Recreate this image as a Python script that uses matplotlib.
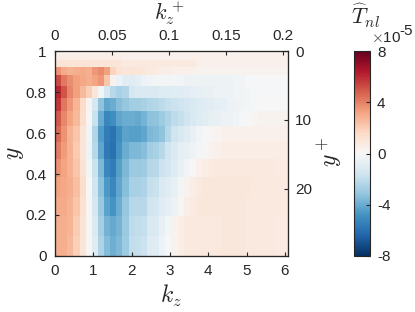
import numpy as np
import matplotlib
matplotlib.use('Agg')
import matplotlib.pyplot as plt

plt.rcParams['font.family'] = ['Liberation Sans', 'DejaVu Sans']
plt.rcParams['mathtext.fontset'] = 'cm'

# grid: spanwise wavenumber cells and Chebyshev wall-normal cells
dk = 0.16
n_kz = 38
kz_edges = np.arange(n_kz + 1) * dk
y_edges = [0.0, 0.098, 0.195, 0.290, 0.383, 0.471, 0.556, 0.634, 0.707,
           0.773, 0.831, 0.882, 0.924, 0.957, 0.981, 0.995, 1.0]
re_tau = 29.8

# T_nl values (x 1e-5), one row per y cell, bottom (y=0) to top (y=1)
r0 = [2.9, 2.9, 2.6, 1.9, 1.0, 0.1, -1.0, -2.5, -3.5, -3.9, -3.6, -2.9, -2.0, -1.9, -1.7, -1.1, -1.0, -0.5, -0.1, 0.3,
      0.6, 0.8, 0.8, 0.8, 0.8, 0.8, 0.8, 0.9, 0.9, 0.9, 0.9, 0.8, 0.8, 0.8, 0.8, 0.8, 0.7, 0.7]
r1 = [2.9, 2.9, 2.7, 2.0, 1.1, 0.1, -1.2, -2.7, -3.8, -4.1, -3.8, -3.0, -2.1, -2.0, -1.9, -1.3, -1.2, -0.6, -0.2, 0.3,
      0.6, 0.8, 0.8, 0.8, 0.8, 0.8, 0.8, 0.9, 0.9, 0.9, 0.9, 0.8, 0.8, 0.8, 0.8, 0.8, 0.7, 0.7]
r2 = [3.0, 3.0, 2.8, 2.2, 1.3, 0.1, -1.4, -3.0, -4.3, -4.8, -4.0, -3.1, -2.3, -2.2, -2.2, -1.6, -1.5, -1.0, -0.8, -0.4,
      0.1, 0.5, 0.7, 0.9, 0.9, 0.9, 0.9, 0.9, 0.9, 0.9, 0.9, 0.8, 0.8, 0.8, 0.8, 0.8, 0.8, 0.7]
r3 = [3.2, 3.1, 2.9, 2.4, 1.4, 0.0, -1.6, -3.3, -4.6, -5.2, -4.2, -3.4, -2.6, -2.6, -2.5, -1.9, -1.8, -1.2, -1.0, -0.6,
      -0.2, 0.3, 0.6, 0.8, 0.9, 0.9, 0.9, 0.9, 0.9, 0.9, 0.9, 0.9, 0.8, 0.8, 0.8, 0.8, 0.8, 0.7]
r4 = [3.6, 3.2, 2.8, 2.2, 1.2, -0.2, -1.8, -3.6, -5.2, -5.6, -4.4, -3.6, -3.0, -3.0, -2.9, -2.3, -2.2, -1.7, -1.5, -1.1,
      -0.6, -0.3, 0.0, 0.4, 0.6, 0.7, 0.8, 0.8, 0.8, 0.8, 0.8, 0.8, 0.8, 0.8, 0.8, 0.8, 0.7, 0.7]
r5 = [4.1, 3.4, 2.8, 2.1, 1.0, -0.4, -2.2, -4.2, -5.7, -6.0, -4.8, -4.0, -3.6, -3.6, -3.4, -2.8, -2.6, -2.2, -1.6, -1.2,
      -0.8, -0.6, -0.4, -0.2, 0.1, 0.3, 0.4, 0.6, 0.6, 0.6, 0.6, 0.6, 0.6, 0.6, 0.6, 0.6, 0.6, 0.6]
r6 = [4.5, 3.6, 2.8, 2.2, 1.1, -0.3, -2.4, -4.5, -5.6, -5.9, -5.0, -4.3, -4.4, -4.4, -4.2, -3.6, -3.5, -3.2, -2.3, -1.6,
      -1.3, -1.0, -0.6, -0.3, -0.1, 0.1, 0.2, 0.4, 0.4, 0.4, 0.4, 0.4, 0.4, 0.4, 0.4, 0.4, 0.4, 0.4]
r7 = [4.9, 3.9, 3.2, 2.6, 1.4, 0.1, -1.8, -4.0, -5.2, -5.0, -4.2, -4.0, -4.0, -4.1, -3.8, -3.3, -3.2, -2.9, -2.5, -2.1,
      -1.9, -1.6, -1.3, -1.1, -0.9, -0.7, -0.6, -0.5, -0.4, -0.3, -0.1, 0.0, 0.1, 0.3, 0.3, 0.3, 0.3, 0.3]
r8 = [5.7, 4.3, 3.5, 2.7, 1.5, 0.2, -1.4, -3.2, -4.2, -4.0, -3.4, -3.1, -2.8, -2.7, -2.6, -2.4, -2.3, -2.1, -1.9, -1.7,
      -1.6, -1.5, -1.3, -1.1, -1.0, -0.9, -0.8, -0.7, -0.5, -0.4, -0.3, -0.2, -0.1, 0.0, 0.0, 0.0, 0.0, 0.0]
r9 = [6.1, 5.0, 3.9, 3.3, 2.6, 1.9, 1.0, -0.2, -1.4, -2.2, -2.6, -2.4, -1.4, -1.2, -1.2, -1.2, -1.2, -1.1, -1.1, -1.0,
      -1.0, -0.9, -0.8, -0.7, -0.6, -0.6, -0.5, -0.5, -0.4, -0.3, -0.3, -0.2, -0.1, -0.1, -0.1, -0.1, -0.1, -0.1]
r10 = [5.2, 4.2, 3.7, 3.3, 3.1, 2.9, 3.2, 3.5, 2.2, 0.3, -0.5, -0.9, -1.0, -0.8, -0.5, -0.3, -0.2, -0.2, -0.2, -0.2,
       -0.3, -0.4, -0.4, -0.4, -0.4, -0.4, -0.4, -0.4, -0.4, -0.3, -0.3, -0.1, -0.1, -0.1, -0.1, -0.1, -0.1, -0.1]
r11 = [3.6, 3.0, 2.8, 2.9, 3.0, 2.9, 3.5, 3.8, 3.3, 1.8, 1.2, 1.0, 1.0, 1.0, 0.9, 0.8, 0.7, 0.6, 0.5, 0.4,
       0.4, 0.4, 0.4, 0.3, 0.3, 0.3, 0.3, 0.3, 0.3, 0.3, 0.3, 0.3, 0.3, 0.3, 0.3, 0.3, 0.3, 0.3]
r12 = [1.1, 1.1, 1.1, 1.1, 1.1, 1.1, 1.0, 1.0, 1.0, 1.0, 1.0, 0.8, 0.8, 0.8, 0.8, 0.8, 0.8, 0.8, 0.8, 0.8,
       0.8, 0.8, 0.8, 0.4, 0.4, 0.4, 0.4, 0.4, 0.4, 0.4, 0.4, 0.4, 0.4, 0.4, 0.4, 0.4, 0.4, 0.4]
r13 = [0.6, 0.6, 0.6, 0.6, 0.6, 0.6, 0.6, 0.6, 0.6, 0.6, 0.6, 0.4, 0.4, 0.4, 0.4, 0.4, 0.4, 0.4, 0.4, 0.4,
       0.4, 0.4, 0.4, 0.4, 0.4, 0.4, 0.4, 0.4, 0.4, 0.4, 0.4, 0.4, 0.4, 0.4, 0.4, 0.4, 0.4, 0.4]
r14 = [0.4, 0.4, 0.4, 0.4, 0.4, 0.4, 0.4, 0.4, 0.4, 0.4, 0.4, 0.3, 0.3, 0.3, 0.3, 0.3, 0.3, 0.3, 0.3, 0.3,
       0.3, 0.3, 0.3, 0.3, 0.3, 0.3, 0.3, 0.3, 0.3, 0.3, 0.3, 0.3, 0.3, 0.3, 0.3, 0.3, 0.3, 0.3]
r15 = [0.2] * n_kz

T_nl = np.array([r0, r1, r2, r3, r4, r5, r6, r7, r8, r9, r10, r11, r12, r13, r14, r15])

y_ticks = [0, 0.2, 0.4, 0.6, 0.8, 1]
kz_ticks = [0, 1, 2, 3, 4, 5, 6]
kzp_ticks = [0, 0.05, 0.1, 0.15, 0.2]
yp_ticks = [0, 10, 20]
cb_ticks = [-8, -4, 0, 4, 8]

ink = '#262626'
fig = plt.figure(figsize=(4.15, 3.12), dpi=100)
ax = fig.add_axes([0.1325, 0.1795, 0.5615, 0.657])
mesh = ax.pcolormesh(kz_edges, y_edges, T_nl, cmap='RdBu_r', vmin=-8, vmax=8, shading='flat')
ax.set_xlim(0, kz_edges[-1])
ax.set_ylim(0, 1)
ax.set_xticks(kz_ticks)
ax.set_xticklabels([str(t) for t in kz_ticks])
ax.set_yticks(y_ticks)
ax.set_yticklabels(['0', '0.2', '0.4', '0.6', '0.8', '1'])
ax.tick_params(direction='in', length=3, labelsize=11, colors=ink, pad=6, top=False, right=False)
ax.set_xlabel('$k_z$', fontsize=17, color=ink, va='center')
ax.xaxis.set_label_coords(0.498, -0.195)
ax.set_ylabel('$y$', fontsize=17, color=ink, va='center', ha='center')
ax.yaxis.set_label_coords(-0.172, 0.5)
for s in ax.spines.values():
    s.set_color(ink)

# top axis: k_z^+
axt = ax.twiny()
axt.set_xlim(0, kz_edges[-1] / re_tau)
axt.set_xticks(kzp_ticks)
axt.set_xticklabels(['0', '0.05', '0.1', '0.15', '0.2'])
axt.tick_params(direction='in', length=3, labelsize=11, colors=ink, pad=6)
axt.set_xlabel('$k_z^+$', fontsize=16, color=ink, va='center')
axt.xaxis.set_label_coords(0.49, 1.184)

# right axis: y^+
axr = ax.twinx()
axr.set_ylim(re_tau, 0)
axr.set_yticks(yp_ticks)
axr.set_yticklabels([str(t) for t in yp_ticks])
axr.tick_params(direction='in', length=3, labelsize=11, colors=ink, pad=5)
axr.set_ylabel('$y^+$', fontsize=17, color=ink, va='center', ha='center')
axr.yaxis.set_label_coords(1.18, 0.507)
for a in (axt, axr):
    for s in a.spines.values():
        s.set_color(ink)

# colorbar
cax = fig.add_axes([0.853, 0.1795, 0.0386, 0.657])
cb = fig.colorbar(mesh, cax=cax, ticks=cb_ticks)
cb.ax.set_yticklabels([str(t) for t in cb_ticks])
cb.ax.tick_params(direction='in', length=3, labelsize=11, colors=ink, pad=5)
cb.outline.set_edgecolor(ink)
fig.text(0.893, 0.878, r'$\times$10', fontsize=11, color=ink, va='center')
fig.text(0.963, 0.902, '-5', fontsize=11, color=ink, va='center')
fig.text(0.882, 0.950, r'$\widehat{T}_{nl}$', fontsize=16, color=ink, ha='center', va='center')

fig.savefig('out.png', dpi=100)
